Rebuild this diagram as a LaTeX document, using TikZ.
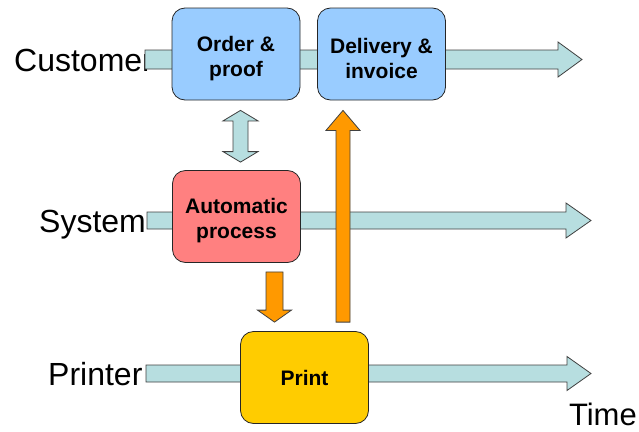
\documentclass[tikz,border=0pt]{standalone}
\usepackage{fontspec}
\setmainfont{Liberation Sans}
\usetikzlibrary{calc}

\definecolor{laneblue}{RGB}{183,222,224}
\definecolor{orderblue}{RGB}{153,204,255}
\definecolor{autored}{RGB}{255,128,128}
\definecolor{printyellow}{RGB}{255,204,0}
\definecolor{feedorange}{RGB}{255,153,0}

% extra room above the first line of a two-line step
\newcommand{\topstrut}{\rule{0pt}{24pt}}

% block arrows: [style](start)(tip){shaft half width}{head half width}{head length}
\def\hblock[#1](#2)(#3)#4#5#6{\draw[#1] let \p1=(#2), \p2=(#3) in (\x1,\y1+#4) -- (\x2-#6,\y1+#4) -- (\x2-#6,\y1+#5) -- (\x2,\y1) -- (\x2-#6,\y1-#5) -- (\x2-#6,\y1-#4) -- (\x1,\y1-#4) -- cycle;}
\def\vblock[#1](#2)(#3)#4#5#6{\draw[#1] let \p1=(#2), \p2=(#3), \n1={sign(\y2-\y1)*#6} in (\x1-#4,\y1) -- (\x1-#4,{\y2-\n1}) -- (\x1-#5,{\y2-\n1}) -- (\x1,\y2) -- (\x1+#5,{\y2-\n1}) -- (\x1+#4,{\y2-\n1}) -- (\x1+#4,\y1) -- cycle;}
\def\dblock[#1](#2)(#3)#4#5#6{\draw[#1] let \p1=(#2), \p2=(#3), \n1={sign(\y2-\y1)*#6} in (\x1,\y1) -- (\x1+#5,{\y1+\n1}) -- (\x1+#4,{\y1+\n1}) -- (\x1+#4,{\y2-\n1}) -- (\x1+#5,{\y2-\n1}) -- (\x1,\y2) -- (\x1-#5,{\y2-\n1}) -- (\x1-#4,{\y2-\n1}) -- (\x1-#4,{\y1+\n1}) -- (\x1-#5,{\y1+\n1}) -- cycle;}

\tikzset{
  lanebar/.style={draw=black!75, fill=laneblue, line width=0.8pt},
  feedarrow/.style={draw=black!75, fill=feedorange, line width=0.8pt},
  taskbox/.style={draw=black!85, line width=0.8pt, rounded corners=13pt,
    minimum width=128pt, minimum height=92pt, align=center,
    font=\fontsize{21}{25}\selectfont\bfseries},
  lanelabel/.style={anchor=base west, inner sep=0pt, font=\fontsize{32}{32}\selectfont}
}

\begin{document}
\begin{tikzpicture}[x=1pt, y=-1pt]
  \useasboundingbox (0,0) rectangle (639,431);

  % lane names
  \node[lanelabel] (customer) at (14,71) {Customer};
  \node[lanelabel] (system) at (39,232) {System};
  \node[lanelabel] (printer) at (48,385) {Printer};
  \node[lanelabel, anchor=base east, font=\fontsize{31}{31}\selectfont] (time) at (637,425) {Time};

  % time lines
  \coordinate (cust start) at (145,59.5);
  \coordinate (cust end) at (582,59.5);
  \coordinate (sys start) at (147,220.5);
  \coordinate (sys end) at (591,220.5);
  \coordinate (prn start) at (146,373.5);
  \coordinate (prn end) at (591,373.5);
  \hblock[lanebar](cust start)(cust end){9.5}{17.5}{24}
  \hblock[lanebar](sys start)(sys end){8.5}{17.5}{25}
  \hblock[lanebar](prn start)(prn end){8.5}{17}{24}

  % steps
  \node[taskbox, fill=orderblue] (order) at (236,54) {\topstrut Order \&\\proof};
  \node[taskbox, fill=orderblue] (delivery) at (381.5,54) {\topstrut Delivery \&\\invoice};
  \node[taskbox, fill=autored] (auto) at (236.5,216.5) {\topstrut Automatic\\process};
  \node[taskbox, fill=printyellow] (print) at (304.5,377.5) {Print};

  % links between steps
  \coordinate (dbl top) at ($(order.south)+(4.5,10)$);
  \coordinate (dbl bot) at ($(auto.north)+(4,-8)$);
  \dblock[lanebar](dbl top)(dbl bot){7.5}{17.5}{10.5}

  \coordinate (down start) at ($(auto.south)+(38,9)$);
  \coordinate (down tip) at ($(print.north)+(-30,-9)$);
  \vblock[feedarrow](down start)(down tip){8.5}{17}{12}

  \coordinate (up start) at ($(print.north)+(38.5,-9)$);
  \coordinate (up tip) at ($(delivery.south)+(-38.5,10)$);
  \vblock[feedarrow](up start)(up tip){7}{17}{20}
\end{tikzpicture}
\end{document}
